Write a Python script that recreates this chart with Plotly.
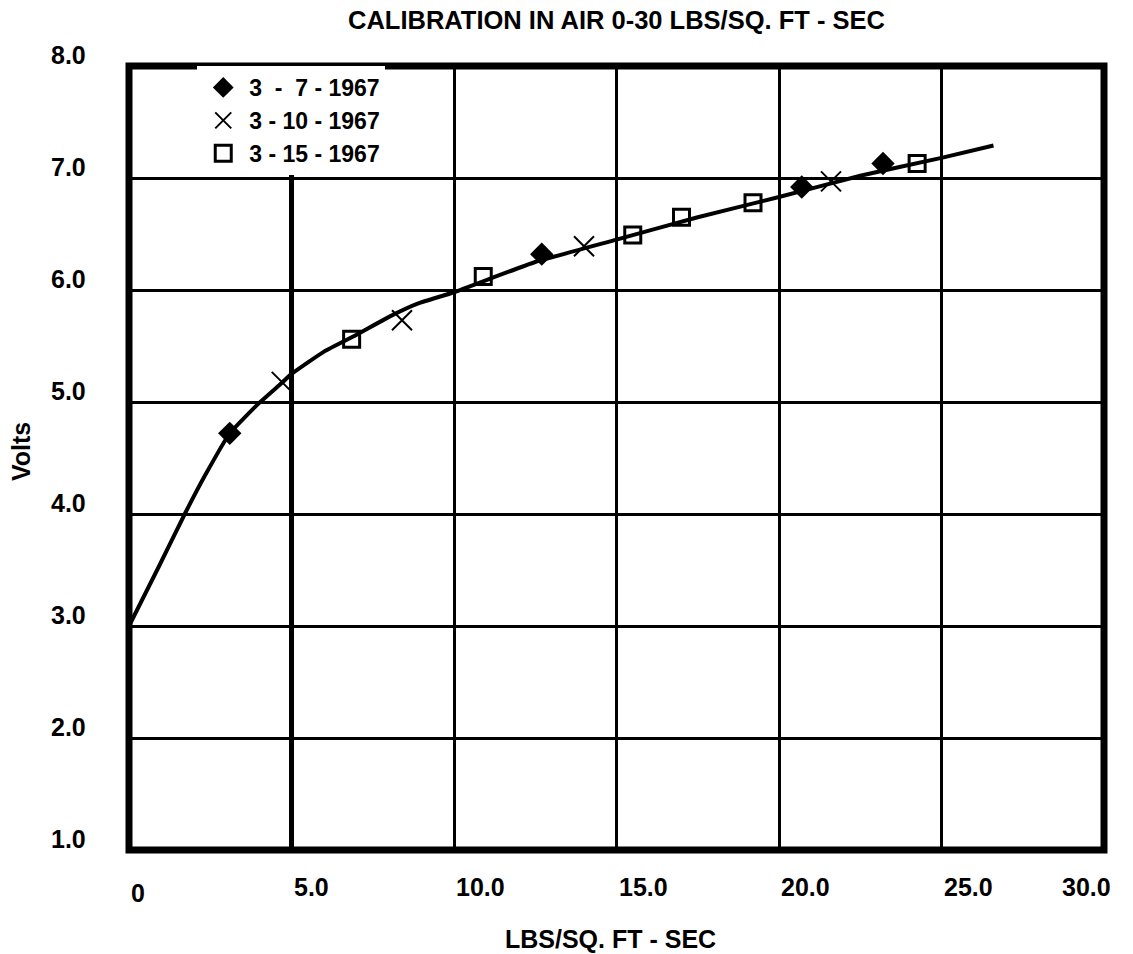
import plotly.graph_objects as go

# ---------------- data ----------------
curve_x = [0.0, 0.9, 1.75, 2.35, 3.1, 4.0, 4.7, 5.0, 6.0, 7.0, 8.0, 8.9, 10.0, 12.5, 15.0, 17.5, 20.0, 22.5, 25.0, 26.6]
curve_y = [3.0, 3.52, 4.02, 4.35, 4.72, 4.99, 5.17, 5.25, 5.45, 5.6, 5.76, 5.88, 5.98, 6.25, 6.45, 6.65, 6.83, 7.02, 7.18, 7.29]

s1_name = "3\u00a0\u00a0-\u00a0\u00a07 - 1967"
s1_x = [3.1, 12.7, 20.7, 23.2]
s1_y = [4.72, 6.32, 6.92, 7.13]

s2_name = "3 - 10 - 1967"
s2_x = [4.7, 8.4, 14.0, 21.6]
s2_y = [5.18, 5.73, 6.39, 6.97]

s3_name = "3 - 15 - 1967"
s3_x = [6.85, 10.9, 15.5, 17.0, 19.2, 24.25]
s3_y = [5.56, 6.12, 6.49, 6.65, 6.78, 7.13]

x_ticks = [0, 5, 10, 15, 20, 25, 30]
x_tick_labels = ["0", "5.0", "10.0", "15.0", "20.0", "25.0", "30.0"]
y_ticks = [1, 2, 3, 4, 5, 6, 7, 8]
y_tick_labels = ["1.0", "2.0", "3.0", "4.0", "5.0", "6.0", "7.0", "8.0"]

title_text = "CALIBRATION IN AIR 0-30 LBS/SQ. FT - SEC"
x_title = "LBS/SQ. FT - SEC"
y_title = "Volts"

FONT = "Liberation Sans, Arial, sans-serif"

fig = go.Figure()
fig.add_trace(go.Scatter(x=curve_x, y=curve_y, mode="lines",
                         line=dict(color="black", width=4, shape="spline", smoothing=0.4),
                         showlegend=False, hoverinfo="skip"))
fig.add_trace(go.Scatter(x=s1_x, y=s1_y, mode="markers", name=s1_name,
                         marker=dict(symbol="diamond", size=18, color="black")))
fig.add_trace(go.Scatter(x=s2_x, y=s2_y, mode="markers", name=s2_name,
                         marker=dict(symbol="x-thin-open", size=20, color="black",
                                     line=dict(color="black", width=2))))
fig.add_trace(go.Scatter(x=s3_x, y=s3_y, mode="markers", name=s3_name,
                         marker=dict(symbol="square-open", size=16, color="black",
                                     line=dict(color="black", width=3))))

# bolder gridline at x = 5
fig.add_shape(type="line", xref="x", yref="y domain", x0=x_ticks[1], x1=x_ticks[1],
              y0=0, y1=1, line=dict(color="black", width=5), layer="below")
# heavy frame
fig.add_shape(type="rect", xref="x domain", yref="y domain", x0=0, x1=1, y0=0, y1=1,
              line=dict(color="black", width=7), layer="above")

annotations = []
for v, t in zip(y_ticks, y_tick_labels):
    annotations.append(dict(x=0, xref="paper", y=v, yref="y", text=t, showarrow=False,
                            xanchor="right", yanchor="middle", xshift=-41, yshift=11,
                            font=dict(family=FONT, size=25, color="black", weight="bold")))
for v, t in zip(x_ticks, x_tick_labels):
    last = v == x_ticks[-1]
    annotations.append(dict(x=v, xref="x", y=0, yref="paper", text=t, showarrow=False,
                            xanchor="right" if last else "left", yanchor="middle",
                            xshift=9 if last else 0, yshift=-43 if v == 0 else -37,
                            font=dict(family=FONT, size=25, color="black", weight="bold")))
annotations.append(dict(x=0.5, xref="paper", y=0, yref="paper", text=x_title, showarrow=False,
                        xanchor="center", yanchor="middle", xshift=-6, yshift=-89,
                        font=dict(family=FONT, size=25, color="black", weight="bold")))
annotations.append(dict(x=0, xref="paper", y=0.5, yref="paper", text=y_title, showarrow=False,
                        textangle=-90, xanchor="center", yanchor="middle", xshift=-108, yshift=6,
                        font=dict(family=FONT, size=25, color="black", weight="bold")))

fig.update_layout(
    width=1133, height=954,
    margin=dict(l=129, r=29, t=66, b=104),
    paper_bgcolor="white", plot_bgcolor="white",
    title=dict(text=title_text, x=0.5, xref="paper", y=1 - 20 / 954, yref="container",
               xanchor="center", yanchor="middle",
               font=dict(family=FONT, size=25.5, color="black", weight="bold")),
    xaxis=dict(range=[0, 30], tickvals=x_ticks, showticklabels=False, showgrid=True,
               gridcolor="black", gridwidth=3, zeroline=False, showline=False, ticks=""),
    yaxis=dict(range=[1, 8], tickvals=y_ticks, showticklabels=False, showgrid=True,
               gridcolor="black", gridwidth=3, zeroline=False, showline=False, ticks=""),
    legend=dict(x=0.070, y=1.0, xanchor="left", yanchor="top", bgcolor="white",
                borderwidth=0, font=dict(family=FONT, size=23, color="black", weight="bold"),
                itemwidth=42, tracegroupgap=0),
    annotations=annotations,
    showlegend=True,
)

fig.write_html("out.html")
